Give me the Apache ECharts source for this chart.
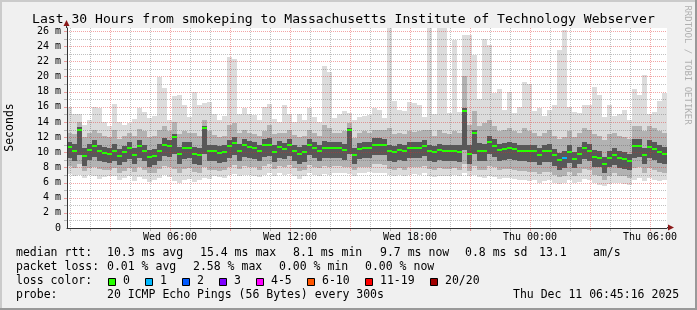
<!DOCTYPE html>
<html><head><meta charset="utf-8">
<script src="https://cdn.jsdelivr.net/npm/echarts@6/dist/echarts.min.js"></script>
<style>html,body{margin:0;padding:0;background:#f0f0f0}#c{width:697px;height:310px}</style>
</head><body><div id="c"></div>
<script>
// ---- time base: each sample covers 15 minutes, hours counted from Wed 00:00
const startHour = 0.85, stepHours = 0.25;

// ---- median rtt (ms)
const med = [
10.7,10.2,13.0,9.5,10.3,10.8,10.2,9.9,9.8,10.2,9.5,10.0,10.5,9.7,10.8,10.2,9.4,9.5,10.2,11.0,
10.8,12.0,9.8,10.5,10.6,9.8,9.6,13.2,10.1,10.1,9.9,10.0,10.8,11.2,10.2,10.9,10.7,10.5,10.1,10.9,
10.9,10.0,10.7,10.4,10.9,10.2,9.8,10.0,11.0,10.6,10.2,10.6,10.5,10.6,10.6,10.3,12.9,9.7,10.4,10.6,
10.5,11.0,11.0,11.0,10.1,10.0,10.3,10.1,10.5,10.5,10.6,10.8,10.1,10.0,10.3,10.1,10.2,10.2,10.0,15.5,
9.8,12.6,10.2,10.2,11.3,10.8,10.3,10.4,10.5,10.4,10.2,10.2,10.1,10.1,9.7,10.1,10.2,9.6,9.0,9.2,
10.0,9.1,9.8,10.5,10.2,9.4,9.3,8.5,9.3,9.6,9.2,9.1,8.9,10.8,10.8,9.7,10.7,10.4,10.0,9.8];

// ---- smoke: lowest / highest ping (ms)
const mn = [
7.1,6.8,7.0,6.6,7.0,6.9,6.5,6.7,6.8,6.9,6.4,6.6,6.8,6.2,6.7,6.5,6.1,6.3,6.6,7.0,
6.7,6.2,6.0,6.4,6.5,6.1,6.3,6.6,6.5,6.8,6.7,6.6,7.0,7.1,6.8,7.0,7.0,6.9,6.7,7.0,
7.2,6.9,7.2,7.0,7.1,6.8,6.5,6.8,7.2,7.0,6.9,7.1,7.0,7.2,7.3,7.2,7.1,6.9,7.2,7.3,
7.4,7.3,7.3,7.2,7.0,6.9,7.0,6.8,7.0,7.1,7.0,7.2,6.8,6.7,6.9,6.8,6.9,7.0,6.8,7.2,
6.9,7.0,6.7,6.6,6.8,6.7,6.5,6.6,6.6,6.5,6.3,6.4,6.2,6.3,6.0,6.2,6.3,6.0,5.8,6.0,
6.3,5.9,6.1,6.5,6.3,5.9,5.7,5.6,5.8,6.0,5.9,5.8,5.7,6.4,6.6,6.2,6.6,6.4,6.2,6.3];
const mx = [
16.0,15.0,15.0,13.6,14.2,16.0,15.8,14.0,13.4,16.4,14.0,13.6,13.8,14.4,15.9,15.3,14.5,14.8,19.9,18.5,
14.2,17.4,17.6,16.2,14.6,17.9,16.2,16.5,16.6,15.0,14.3,14.8,22.6,22.3,15.0,15.8,15.0,14.9,14.3,16.0,
16.4,14.4,14.0,16.3,15.1,14.0,15.0,14.2,15.8,14.6,14.0,21.4,20.6,14.5,15.0,15.4,15.2,14.2,14.6,14.8,
14.9,15.9,15.6,14.5,26.4,16.7,15.6,15.4,16.6,16.5,16.2,14.6,26.4,15.0,26.4,26.4,15.2,24.8,15.3,25.5,
25.5,22.8,17.0,25.0,24.1,17.8,18.4,15.6,18.0,15.2,16.0,19.3,19.0,15.4,15.8,14.8,15.6,16.2,23.5,26.2,
16.0,15.3,15.2,16.2,16.2,18.6,17.5,14.6,16.2,14.8,15.0,15.6,14.2,18.4,17.6,20.2,15.0,15.3,16.7,17.8];
// ---- smoke: middle band (ms)
const lo2 = [
8.2,7.9,8.4,7.5,7.9,8.1,7.8,7.7,7.6,7.9,7.3,7.5,7.9,7.4,8.1,7.7,7.2,7.3,7.8,8.2,
8.0,7.8,7.2,7.8,7.9,7.4,7.2,8.0,7.6,7.7,7.5,7.6,8.1,8.3,7.8,8.2,8.1,8.0,7.7,8.2,
8.4,7.8,8.2,8.0,8.3,7.9,7.5,7.7,8.3,8.1,7.9,8.2,8.1,8.2,8.2,8.0,8.1,7.6,8.0,8.1,
8.1,8.4,8.4,8.3,7.8,7.7,7.9,7.7,8.0,8.0,8.1,8.2,7.8,7.7,7.9,7.8,7.8,7.9,7.7,8.4,
7.5,8.2,7.7,7.6,8.2,8.0,7.7,7.8,7.8,7.7,7.5,7.5,7.4,7.4,7.1,7.4,7.4,7.0,6.7,6.8,
7.4,6.8,7.3,7.8,7.6,7.0,6.9,6.3,6.9,7.2,6.8,6.8,6.6,7.9,8.0,7.2,7.9,7.7,7.4,7.3];
const hi2 = [
12.6,12.4,14.0,12.0,12.5,13.0,12.6,12.2,12.0,12.9,11.8,12.2,12.6,12.2,13.1,12.8,12.0,12.2,13.0,13.4,
12.8,14.0,12.4,12.8,12.6,12.5,12.2,14.2,12.8,12.3,12.0,12.2,13.6,13.8,12.5,12.9,12.6,12.4,12.2,12.8,
13.6,12.4,12.6,12.6,13.0,12.3,12.0,12.2,13.0,12.6,12.2,13.6,13.2,12.6,12.6,12.8,13.8,11.9,12.6,12.8,
12.6,13.0,13.0,12.9,13.2,12.4,12.6,12.4,12.8,12.7,12.8,12.9,13.0,12.2,13.0,12.6,12.4,12.8,12.5,20.0,
13.6,15.5,13.5,13.8,14.2,13.4,12.8,12.9,13.2,12.8,12.6,13.2,12.8,12.6,12.2,12.6,12.9,12.2,11.8,12.0,
12.8,12.0,12.5,13.2,12.9,12.4,12.2,11.6,12.4,12.6,12.2,12.0,11.8,13.4,13.5,12.8,13.4,13.2,12.8,12.6];
// ---- smoke: dark core (ms)
const lo3 = [
9.3,8.9,9.6,8.2,9.0,9.4,8.8,8.7,8.6,8.9,8.3,8.7,9.1,8.4,9.3,8.8,8.1,8.3,8.9,9.5,
9.4,9.8,8.4,9.1,9.2,8.5,8.3,9.8,8.8,8.8,8.6,8.7,9.3,9.7,8.9,9.4,9.3,9.1,8.8,9.4,
9.5,8.7,9.3,9.1,9.5,8.9,8.5,8.7,9.6,9.3,8.9,9.3,9.2,9.3,9.3,9.0,9.8,8.5,9.1,9.3,
9.2,9.6,9.6,9.6,8.8,8.7,9.0,8.8,9.2,9.2,9.3,9.5,8.8,8.7,9.0,8.8,8.9,8.9,8.7,10.3,
8.4,9.8,8.8,8.8,9.8,9.4,8.9,9.0,9.1,9.0,8.8,8.8,8.7,8.7,8.3,8.7,8.7,8.2,7.7,7.9,
8.6,7.9,8.5,9.1,8.8,8.1,8.0,7.3,8.0,8.3,7.9,7.8,7.6,9.3,9.4,8.4,9.3,9.0,8.6,8.5];
const hi3 = [
11.4,11.1,13.3,10.6,11.1,11.6,11.0,10.7,10.6,11.1,10.4,10.8,11.3,10.6,11.6,11.0,10.3,10.4,11.1,11.9,
11.6,12.4,10.7,11.3,11.4,10.7,10.5,13.5,11.0,11.0,10.8,10.9,11.6,12.0,11.1,11.7,11.5,11.3,11.0,11.7,
11.9,10.9,11.5,11.2,11.7,11.0,10.7,10.9,11.8,11.4,11.0,11.5,11.3,11.4,11.4,11.1,13.2,10.6,11.2,11.4,
11.3,11.9,11.9,11.8,10.9,10.8,11.1,10.9,11.3,11.3,11.4,11.6,10.9,10.8,11.1,10.9,11.0,11.0,10.9,15.8,
11.0,13.0,11.2,11.1,12.2,11.7,11.1,11.2,11.3,11.2,11.0,11.0,10.9,10.9,10.5,10.9,11.1,10.4,9.9,10.1,
10.9,10.0,10.7,11.4,11.1,10.3,10.2,9.4,10.2,10.5,10.1,10.0,9.8,11.7,11.7,10.6,11.6,11.3,10.9,10.7];

// ---- packet loss per sample: [sample index, pings lost]
const lossAt = [[99, 1]];

// ---- axes
const xMin = 0.85, xMax = 30.85, yMin = 0, yMax = 26.4;
const xLabelHours = [6, 12, 18, 24, 30];
const xLabelText = ['Wed 06:00', 'Wed 12:00', 'Wed 18:00', 'Thu 00:00', 'Thu 06:00'];

// ---- legend texts
const titleText = 'Last 30 Hours from smokeping to Massachusetts Institute of Technology Webserver';
const rttRow = ['median rtt:', '10.3 ms avg', '15.4 ms max', '8.1 ms min', '9.7 ms now', '0.8 ms sd', '13.1', 'am/s'];
const lossRow = ['packet loss:', '0.01 % avg', '2.58 % max', '0.00 % min', '0.00 % now'];
const lossLegend = ['0', '1', '2', '3', '4-5', '6-10', '11-19', '20/20'];
const lossColors = ['#26ff00', '#00b8ff', '#0059ff', '#7e00ff', '#ff00ff', '#ff5500', '#ff0000', '#a10000'];
const probeRow = ['probe:', '20 ICMP Echo Pings (56 Bytes) every 300s', 'Thu Dec 11 06:45:16 2025'];

// ---- layout (pixels)
const rttX = [16, 107, 200, 293, 380, 465, 539, 593];
const lossX = [16, 107, 193, 279, 365];
const boxX = [108, 145, 182, 219, 256, 307, 365, 430];
const probeX = [16, 107, 513];
const rowY = [253.5, 267.5, 281.3, 295];

const FONT = "'DejaVu Sans Mono', monospace";
const PINK = 'rgba(225,40,40,0.42)', GRAY = 'rgba(90,90,90,0.38)';

const hourTicks = [];
for (let h = Math.ceil(xMin); h <= Math.floor(xMax); h++) hourTicks.push(h);
const msTicks = [];
for (let v = 1; v <= Math.floor(yMax); v++) msTicks.push(v);

function bandSeries(lo, hi, color) {
  return {
    type: 'custom', silent: true, clip: true, z: 3,
    data: lo.map((v, i) => [startHour + i * stepHours, v, hi[i]]),
    encode: { x: 0, y: [1, 2] },
    renderItem(params, api) {
      const t = api.value(0);
      const a = api.coord([t, api.value(2)]);
      const b = api.coord([t + stepHours, api.value(1)]);
      const x0 = Math.round(a[0]), x1 = Math.round(b[0]);
      const y0 = Math.round(a[1]), y1 = Math.round(b[1]);
      return { type: 'rect', shape: { x: x0, y: y0, width: x1 - x0, height: y1 - y0 }, style: { fill: color } };
    }
  };
}

const lostMap = {};
lossAt.forEach(([i, n]) => { lostMap[i] = n; });
function lossColor(n) {
  if (n <= 0) return lossColors[0];
  if (n === 1) return lossColors[1];
  if (n === 2) return lossColors[2];
  if (n === 3) return lossColors[3];
  if (n <= 5) return lossColors[4];
  if (n <= 10) return lossColors[5];
  if (n <= 19) return lossColors[6];
  return lossColors[7];
}

const chart = echarts.init(document.getElementById('c'), null, { renderer: 'canvas' });

const graphic = [];
graphic.push({ type: 'rect', silent: true, z: -10, shape: { x: 0, y: 0, width: 697, height: 2 }, style: { fill: '#cbcbcb' } });
graphic.push({ type: 'rect', silent: true, z: -10, shape: { x: 0, y: 0, width: 2, height: 310 }, style: { fill: '#cbcbcb' } });
graphic.push({ type: 'rect', silent: true, z: -10, shape: { x: 0, y: 308, width: 697, height: 2 }, style: { fill: '#999999' } });
graphic.push({ type: 'rect', silent: true, z: -10, shape: { x: 695, y: 0, width: 2, height: 310 }, style: { fill: '#999999' } });
graphic.push({ type: 'text', silent: true, x: 32, y: 19.5, style: { text: titleText, font: '13.1px ' + FONT, fill: '#000', verticalAlign: 'middle', align: 'left' } });
graphic.push({ type: 'text', silent: true, x: 10.5, y: 127.5, rotation: Math.PI / 2, style: { text: 'Seconds', font: '11.5px ' + FONT, fill: '#000', align: 'center', verticalAlign: 'middle' } });
graphic.push({ type: 'text', silent: true, x: 687.5, y: 65, rotation: -Math.PI / 2, style: { text: 'RRDTOOL / TOBI OETIKER', font: '9px ' + FONT, fill: '#b0b0b0', align: 'center', verticalAlign: 'middle' } });
graphic.push({ type: 'line', silent: true, z: 20, shape: { x1: 66.5, y1: 28, x2: 66.5, y2: 24 }, style: { stroke: '#333', lineWidth: 1 } });
graphic.push({ type: 'polygon', silent: true, z: 20, shape: { points: [[66.5, 20], [63.5, 26], [69.5, 26]] }, style: { fill: '#8b1a1a' } });
graphic.push({ type: 'line', silent: true, z: 20, shape: { x1: 667, y1: 227.5, x2: 670, y2: 227.5 }, style: { stroke: '#333', lineWidth: 1 } });
graphic.push({ type: 'polygon', silent: true, z: 20, shape: { points: [[674, 227.5], [668, 224.5], [668, 230.5]] }, style: { fill: '#8b1a1a' } });
function addText(x, y, s) {
  graphic.push({ type: 'text', silent: true, x: x, y: y, style: { text: s, font: '11.5px ' + FONT, fill: '#000', verticalAlign: 'middle', align: 'left' } });
}
rttRow.forEach((s, i) => addText(rttX[i], rowY[0], s));
lossRow.forEach((s, i) => addText(lossX[i], rowY[1], s));
addText(16, rowY[2], 'loss color:');
lossLegend.forEach((s, i) => {
  graphic.push({ type: 'rect', silent: true, shape: { x: boxX[i] + 0.5, y: 278.5, width: 7, height: 7 }, style: { fill: lossColors[i], stroke: '#000', lineWidth: 1 } });
  addText(boxX[i] + 15, rowY[2], s);
});
probeRow.forEach((s, i) => addText(probeX[i], rowY[3], s));

const option = {
  animation: false,
  backgroundColor: '#f0f0f0',
  grid: { left: 67, top: 28, width: 600, height: 200, show: true, backgroundColor: '#ffffff', borderWidth: 0 },
  xAxis: {
    type: 'value', min: xMin, max: xMax, z: 10,
    axisLine: { show: true, onZero: false, lineStyle: { color: '#333', width: 1 } },
    axisTick: { show: false },
    splitLine: { show: false },
    axisLabel: {
      customValues: xLabelHours,
      formatter: v => { const k = xLabelHours.indexOf(Math.round(v)); return k >= 0 ? xLabelText[k] : ''; },
      fontFamily: FONT, fontSize: 10, color: '#000', margin: 4
    }
  },
  yAxis: {
    type: 'value', min: yMin, max: yMax, interval: 2, z: 10,
    axisLine: { show: true, onZero: false, lineStyle: { color: '#333', width: 1 } },
    axisTick: { show: false },
    splitLine: { show: false },
    axisLabel: {
      formatter: v => (Math.abs(v) < 1e-9 ? '0' : (Math.abs(v % 2) < 1e-9 ? v + ' m' : '')),
      fontFamily: FONT, fontSize: 10, color: '#000', margin: 6
    }
  },
  graphic: graphic,
  series: [
    bandSeries(mn, mx, '#dcdcdc'),
    bandSeries(lo2, hi2, '#b2b2b2'),
    bandSeries(lo3, hi3, '#585858'),
    { // horizontal grid (drawn over the smoke like rrdtool)
      type: 'custom', silent: true, z: 4, clip: false,
      data: msTicks.map(v => [xMin, v]),
      encode: { x: 0, y: 1 },
      renderItem(params, api) {
        const cs = params.coordSys;
        const v = api.value(1);
        const y = Math.round(api.coord([xMin, v])[1]) + 0.5;
        const major = v % 2 === 0;
        return { type: 'group', children: [
          { type: 'line', shape: { x1: cs.x, y1: y, x2: cs.x + cs.width, y2: y }, style: { stroke: major ? PINK : GRAY, lineWidth: 1, lineDash: [1, 1] } },
          { type: 'line', shape: { x1: cs.x - 3, y1: y, x2: cs.x, y2: y }, style: { stroke: major ? PINK : GRAY, lineWidth: 1 } }
        ] };
      }
    },
    { // vertical grid
      type: 'custom', silent: true, z: 4, clip: false,
      data: hourTicks.map(h => [h, yMin]),
      encode: { x: 0, y: 1 },
      renderItem(params, api) {
        const cs = params.coordSys;
        const h = api.value(0);
        const x = Math.round(api.coord([h, yMin])[0]) + 0.5;
        const major = h % 3 === 0;
        return { type: 'group', children: [
          { type: 'line', shape: { x1: x, y1: cs.y, x2: x, y2: cs.y + cs.height }, style: { stroke: major ? PINK : GRAY, lineWidth: 1, lineDash: [1, 1] } },
          { type: 'line', shape: { x1: x, y1: cs.y + cs.height, x2: x, y2: cs.y + cs.height + 3 }, style: { stroke: major ? PINK : GRAY, lineWidth: 1 } }
        ] };
      }
    },
    { // median
      type: 'custom', silent: true, z: 5, clip: true,
      data: med.map((v, i) => [startHour + i * stepHours, v, lostMap[i] || 0]),
      encode: { x: 0, y: 1 },
      renderItem(params, api) {
        const t = api.value(0);
        const a = api.coord([t, api.value(1)]);
        const b = api.coord([t + stepHours, api.value(1)]);
        const x0 = Math.round(a[0]), x1 = Math.round(b[0]);
        const y = Math.round(a[1]) - 1;
        return { type: 'rect', shape: { x: x0, y: y, width: x1 - x0, height: 2 }, style: { fill: lossColor(api.value(2)) } };
      }
    }
  ]
};
chart.setOption(option);
</script>
</body></html>
